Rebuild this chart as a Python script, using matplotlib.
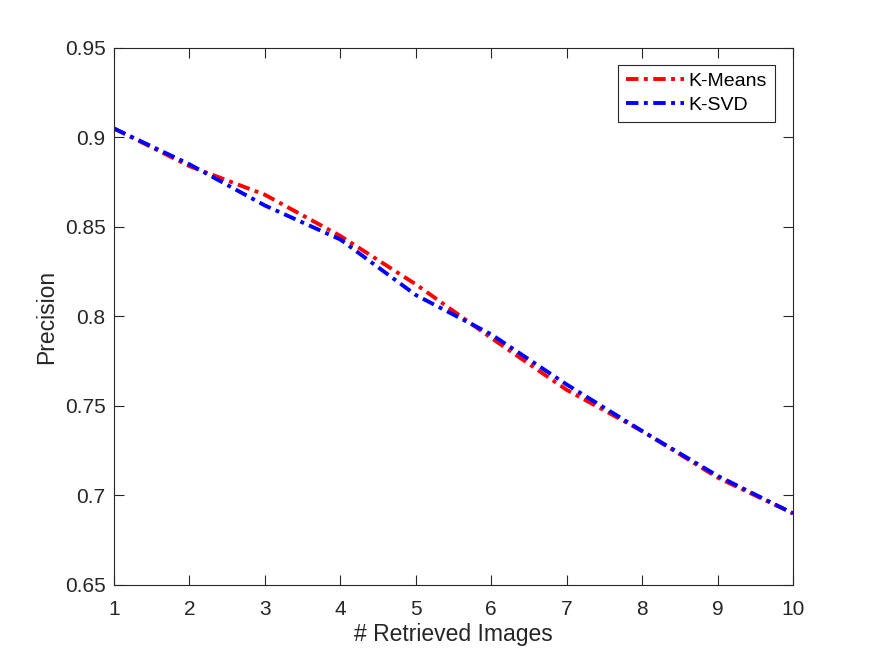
import numpy as np
import matplotlib.pyplot as plt

plt.rcParams['font.family'] = ['Liberation Sans', 'DejaVu Sans']

# Precision vs number of retrieved images
n_images = [1, 2, 3, 4, 5, 6, 7, 8, 9, 10]
kmeans = [0.905, 0.884, 0.868, 0.845, 0.818, 0.788, 0.759, 0.736, 0.710, 0.690]
ksvd = [0.905, 0.885, 0.862, 0.843, 0.812, 0.790, 0.762, 0.736, 0.711, 0.690]

fig = plt.figure(figsize=(8.75, 6.57), dpi=100)
ax = fig.add_axes([0.1303, 0.1096, 0.7760, 0.8174])

dashdot = (0, (3.2, 1.4, 1.0, 1.4))
ax.plot(n_images, kmeans, color='#ff0000', linestyle=dashdot, linewidth=2.8, label='K-Means')
ax.plot(n_images, ksvd, color='#0000ff', linestyle=dashdot, linewidth=2.8, label='K-SVD')

ax.set_xlim(1, 10)
ax.set_ylim(0.65, 0.95)
ax.set_xticks(range(1, 11))
ax.set_yticks([0.65, 0.7, 0.75, 0.8, 0.85, 0.9, 0.95])
ax.set_yticklabels(['0.65', '0.7', '0.75', '0.8', '0.85', '0.9', '0.95'])

edge = '#262626'
for s in ax.spines.values():
    s.set_color(edge)
    s.set_linewidth(0.8)
ax.tick_params(direction='in', top=True, right=True, colors=edge, labelsize=15,
               length=7, width=0.8, pad=6)
ax.tick_params(axis='x', pad=11)

ax.set_xlabel('# Retrieved Images', fontsize=16.5, color=edge, labelpad=3)
ax.set_ylabel('Precision', fontsize=16.5, color=edge, labelpad=5)

leg = ax.legend(loc='upper right', bbox_to_anchor=(0.9735, 0.969), fontsize=14,
                fancybox=False, framealpha=1, edgecolor=edge, handlelength=3.0,
                handletextpad=0.25, borderpad=0.4, labelspacing=0.32, borderaxespad=0)
leg.get_frame().set_linewidth(0.8)

fig.savefig('out.png', dpi=100)
